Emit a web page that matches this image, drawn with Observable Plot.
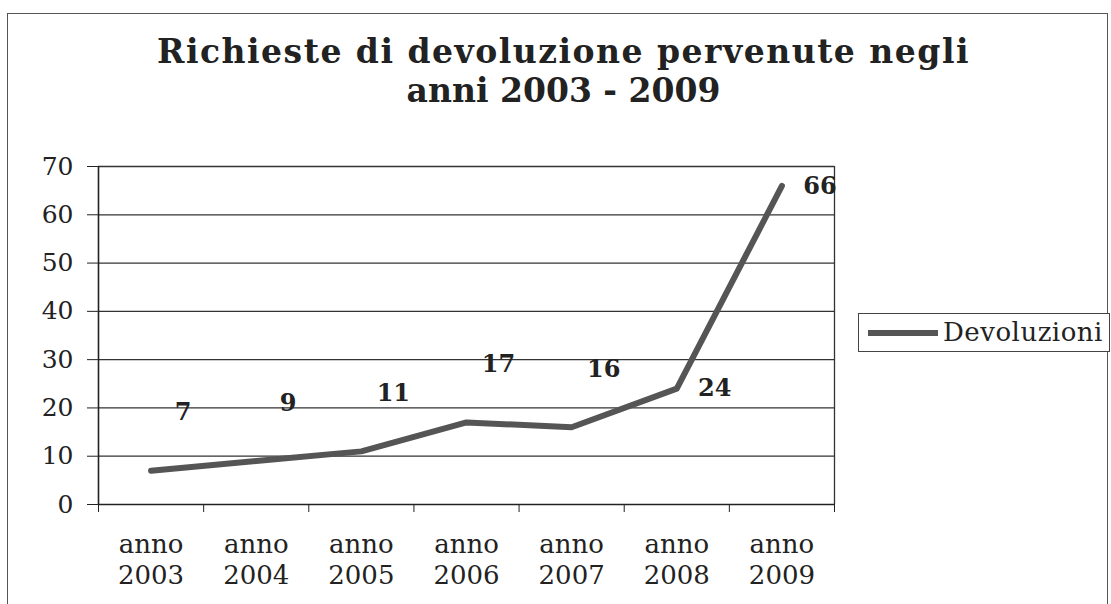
<!DOCTYPE html>
<html><head><meta charset="utf-8">
<script src="https://cdn.jsdelivr.net/npm/d3@7"></script>
<script src="https://cdn.jsdelivr.net/npm/@observablehq/plot@0.6"></script>
<style>
body{margin:0;background:#fff;}
#wrap{position:relative;width:1111px;height:604px;overflow:hidden;background:#fff;font-family:"DejaVu Serif",serif;color:#222;}
#frame{position:absolute;left:7px;top:13px;width:1101px;height:640px;border:1px solid #555;box-sizing:border-box;}
#title{position:absolute;left:8px;width:1111px;top:32px;text-align:center;font-weight:bold;font-size:33px;line-height:39px;color:#222;}
#title .l1{letter-spacing:1.5px;}
#chart{position:absolute;left:0;top:0;}
#legend{position:absolute;left:858px;top:313px;width:252px;height:39px;border:1px solid #444;box-sizing:border-box;background:#fff;}
#legend .sw{position:absolute;left:9px;top:16px;width:70px;height:6px;background:#555;}
#legend .lb{position:absolute;left:84px;top:2px;font-size:26px;line-height:32px;white-space:nowrap;letter-spacing:0.5px;}
</style></head>
<body>
<div id="wrap">
  <div id="frame"></div>
  <div id="chart"></div>
  <div id="title"><span class="l1">Richieste di devoluzione pervenute negli</span><br>anni 2003 - 2009</div>
  <div id="legend"><div class="sw"></div><div class="lb"></div></div>
</div>
<script>
const years = ["2003", "2004", "2005", "2006", "2007", "2008", "2009"];
const categoryPrefix = "anno";
const values = [7, 9, 11, 17, 16, 24, 66];
const yTicks = [0, 10, 20, 30, 40, 50, 60, 70];
const seriesName = "Devoluzioni";

const data = years.map((y, i) => ({i, pos: i + 0.5, label: categoryPrefix + "\n" + y, value: values[i]}));
const boundaries = d3.range(years.length + 1);

document.querySelector("#legend .lb").textContent = seriesName;

const chart = Plot.plot({
  width: 1111,
  height: 604,
  marginLeft: 98,
  marginRight: 277,
  marginTop: 166,
  marginBottom: 100,
  style: {fontFamily: '"DejaVu Serif", serif', fontSize: "25px", color: "#222", background: "transparent"},
  x: {domain: [0, years.length]},
  y: {domain: [0, 70]},
  marks: [
    Plot.gridY(yTicks.slice(1), {stroke: "#333", strokeOpacity: 1, strokeWidth: 1.3}),
    Plot.ruleX([years.length], {stroke: "#333", strokeWidth: 1.3}),
    Plot.ruleY([0], {stroke: "#222", strokeWidth: 1.6}),
    Plot.ruleX([0], {stroke: "#222", strokeWidth: 1.6}),
    Plot.axisY(yTicks, {tickSize: 11, tickPadding: 14, tickFormat: d => String(d), fontSize: 25, label: null, stroke: "#222"}),
    Plot.axisX(boundaries, {tickSize: 8, tickFormat: () => "", label: null, stroke: "#222"}),
    Plot.axisX(data.map(d => d.pos), {tickSize: 0, tickPadding: 26, tickFormat: p => data.find(d => d.pos === p).label, fontSize: 26, lineHeight: 1.2, label: null}),
    Plot.line(data, {x: "pos", y: "value", stroke: "#555", strokeWidth: 6}),
    Plot.text(data.filter(d => d.i < 5), {x: "pos", y: "value", text: "value", dx: 32, dy: -58, fontWeight: "bold", fontSize: 24, fill: "#222"}),
    Plot.text(data.filter(d => d.i >= 5), {x: "pos", y: "value", text: "value", dx: 38, dy: 0, fontWeight: "bold", fontSize: 24, fill: "#222"})
  ]
});
document.getElementById("chart").appendChild(chart);
</script>
</body></html>
